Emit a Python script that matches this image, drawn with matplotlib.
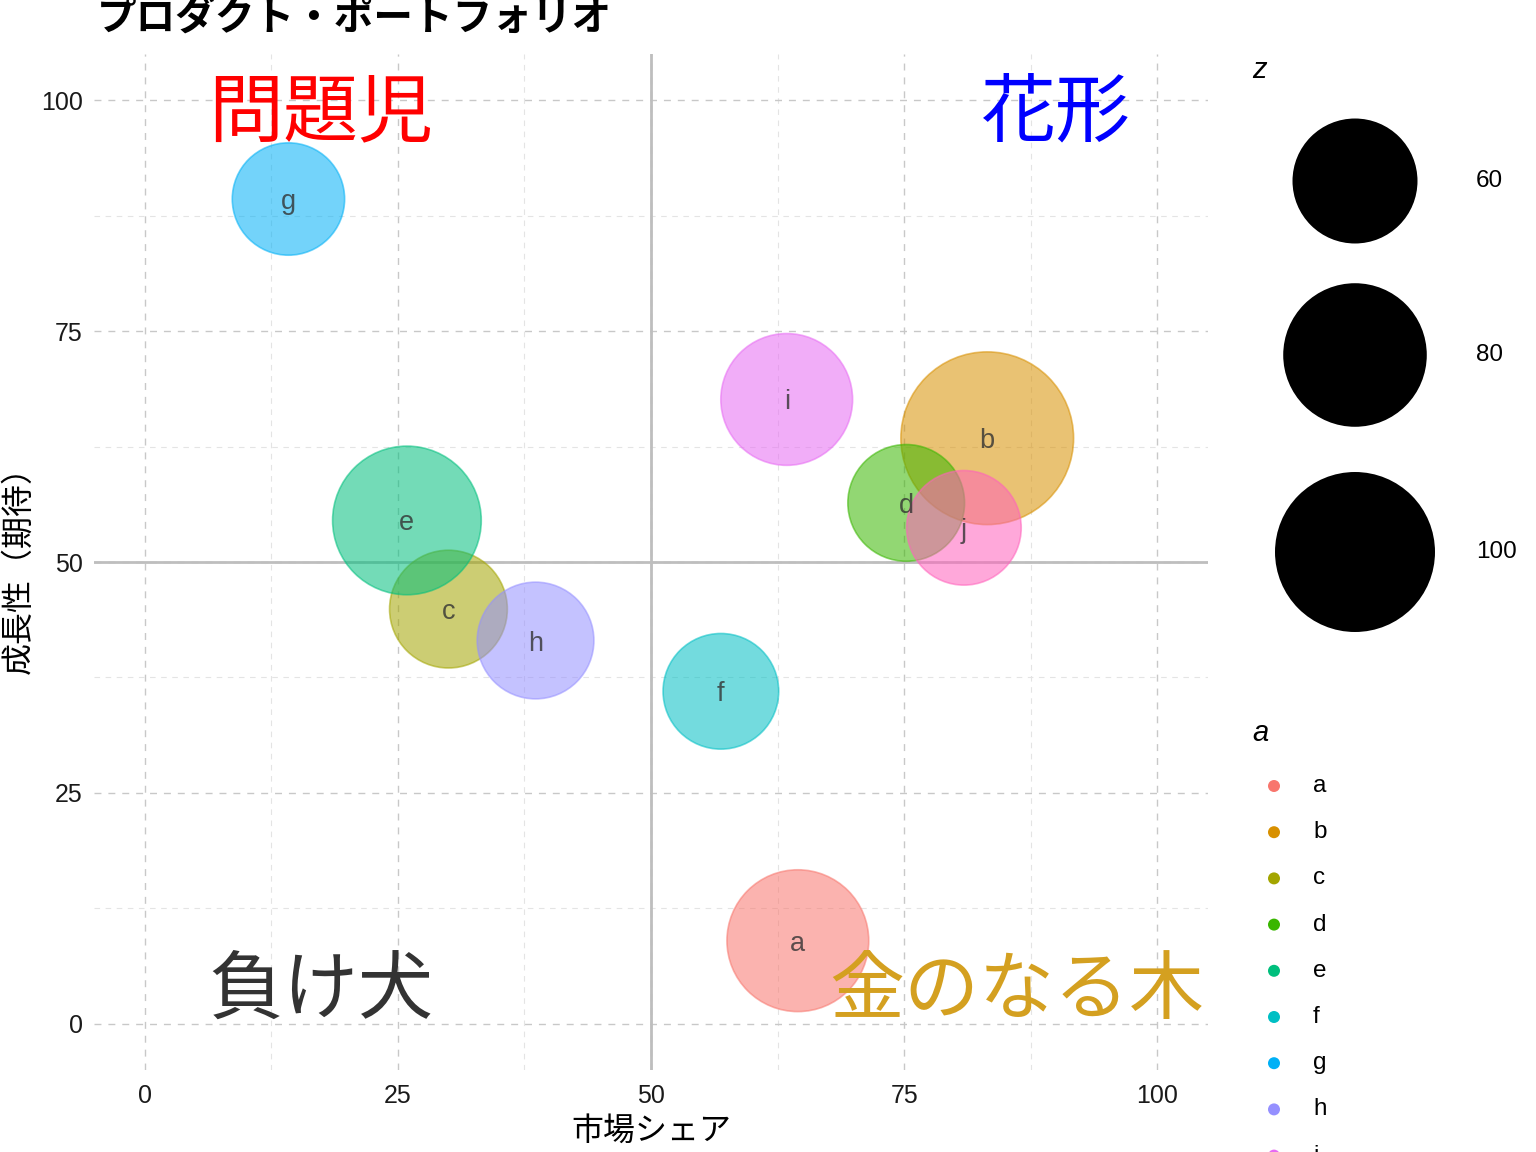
import matplotlib
matplotlib.use("Agg")
import matplotlib.pyplot as plt
import numpy as np

# data
products = ['a', 'b', 'c', 'd', 'e', 'f', 'g', 'h', 'i', 'j']
share = [64.5, 83.2, 30.0, 75.2, 25.9, 56.9, 14.2, 38.6, 63.4, 80.9]
growth = [9.0, 63.4, 44.9, 56.4, 54.5, 36.0, 89.3, 41.5, 67.6, 53.7]
z = [78, 117, 53, 52, 86, 51, 48, 52, 67, 50]
size_breaks = [60, 80, 100]

colors = ['#F8766D', '#D89000', '#A3A500', '#39B600', '#00BF7D',
          '#00BFC4', '#00B0F6', '#9590FF', '#E76BF3', '#FF62BC']

quad_labels = ['問題児', '花形', '負け犬', '金のなる木']
quad_x = [17.4, 90.0, 17.4, 86.1]
quad_y = [98.5, 98.5, 3.5, 3.5]
quad_colors = ['#FF0000', '#0000FF', '#333333', '#D4A020']

DPI = 100
JP = ['Noto Sans CJK JP', 'DejaVu Sans']
plt.rcParams['font.family'] = ['Liberation Sans', 'Noto Sans CJK JP', 'DejaVu Sans']


def bubble_size(v):
    # area grows linearly with z (ggplot-like size scale), returned in pt^2
    r_px = np.sqrt(165 + 62.35 * np.asarray(v, dtype=float))
    return (2 * r_px * 72 / DPI) ** 2


fig = plt.figure(figsize=(15.36, 11.52), dpi=DPI)
W, H = 1536, 1152
ax = fig.add_axes([94 / W, 1 - 1070 / H, 1114 / W, 1016 / H])

ax.set_xlim(-5, 105)
ax.set_ylim(-5, 105)
for s in ax.spines.values():
    s.set_visible(False)

ax.set_xticks([0, 25, 50, 75, 100])
ax.set_yticks([0, 25, 50, 75, 100])
ax.set_xticks([12.5, 37.5, 62.5, 87.5], minor=True)
ax.set_yticks([12.5, 37.5, 62.5, 87.5], minor=True)
ax.tick_params(which='both', length=0)
ax.tick_params(axis='both', labelsize=18, colors='#1a1a1a')
ax.tick_params(axis='x', pad=10)
ax.tick_params(axis='y', pad=8)
ax.grid(which='major', color='#c8c8c8', linestyle=(0, (5, 5)), linewidth=1.0)
ax.grid(which='minor', color='#e4e4e4', linestyle=(0, (5, 5)), linewidth=0.8)
ax.set_axisbelow(True)

ax.axvline(50, color='#bebebe', linewidth=2, zorder=1)
ax.axhline(50, color='#bebebe', linewidth=2, zorder=1)

ax.scatter(share, growth, s=bubble_size(z), c=colors, alpha=0.55,
           edgecolors=colors, linewidths=1.2, zorder=3)

for p, x, y in zip(products, share, growth):
    ax.text(x, y, p, ha='center', va='center_baseline', fontsize=19.5,
            color='#333333', alpha=0.8, zorder=4)

for lab, x, y, c in zip(quad_labels, quad_x, quad_y, quad_colors):
    ax.text(x, y, lab, ha='center', va='center', fontsize=54, color=c,
            family=JP, zorder=5)

ax.set_xlabel('市場シェア', fontsize=23, family=JP, labelpad=5)
ax.set_ylabel('成長性（期待）', fontsize=23, family=JP, labelpad=5)

fig.text(97 / W, 1 - 18 / H, 'プロダクト・ポートフォリオ', fontsize=28.5,
         fontweight='bold', family=JP, ha='left', va='center')

# legends drawn on a figure-wide overlay in pixel coordinates
leg = fig.add_axes([0, 0, 1, 1])
leg.set_xlim(0, W)
leg.set_ylim(H, 0)
leg.axis('off')

leg.text(1252, 70, 'z', fontsize=21, style='italic', ha='left', va='center')
size_rows = [181, 355, 552]
leg.scatter([1355] * len(size_breaks), size_rows, s=bubble_size(size_breaks),
            c='black', linewidths=0)
for v, y in zip(size_breaks, size_rows):
    leg.text(1476, y, str(v), fontsize=17.5, ha='left', va='center')

leg.text(1252, 733, 'a', fontsize=21, style='italic', ha='left', va='center')
rows = 786 + 46.2 * np.arange(len(products))
leg.scatter([1274] * len(products), rows, s=(12 * 72 / DPI) ** 2, c=colors,
            linewidths=0)
for p, y in zip(products, rows):
    leg.text(1313, y, p, fontsize=17.5, ha='left', va='center')

fig.savefig('out.png', dpi=DPI)
